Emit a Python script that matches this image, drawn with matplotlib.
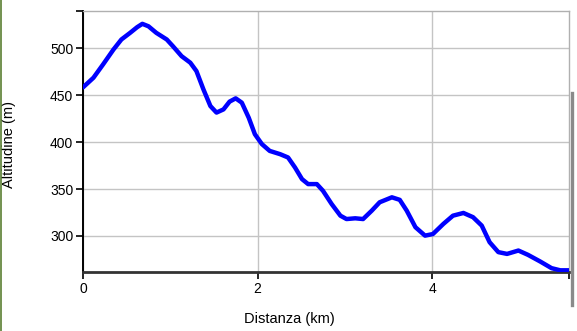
import matplotlib
matplotlib.use('Agg')
import matplotlib.pyplot as plt
from matplotlib.lines import Line2D

plt.rcParams['font.family'] = ['Liberation Sans', 'DejaVu Sans']

# elevation profile
distanceKm = [0.0, 0.12, 0.23, 0.35, 0.44, 0.54, 0.62, 0.68, 0.75, 0.84,
              0.96, 1.03, 1.13, 1.23, 1.30, 1.38, 1.46, 1.53, 1.61, 1.68,
              1.75, 1.82, 1.90, 1.97, 2.05, 2.14, 2.26, 2.35, 2.43, 2.51,
              2.58, 2.68, 2.75, 2.85, 2.95, 3.02, 3.12, 3.21, 3.31, 3.40,
              3.54, 3.63, 3.71, 3.81, 3.92, 4.01, 4.13, 4.24, 4.36, 4.47,
              4.57, 4.66, 4.76, 4.86, 4.99, 5.10, 5.24, 5.37, 5.47, 5.58]
altitudeM = [458.5, 468.8, 483, 499, 509.6, 516.7, 522.7, 526.3, 523.7, 516.7,
             509.6, 502.5, 491.8, 484.8, 475.9, 456.4, 438.6, 431.6, 435, 443.3,
             446.8, 442.2, 426, 408.5, 398, 390.7, 387.2, 383.7, 373, 360.6,
             355.3, 355.3, 348.2, 334, 321.6, 318, 318.8, 318, 327, 335.9,
             341.2, 338.5, 327, 309.3, 300.3, 302, 312.8, 321.6, 324.5, 320,
             311, 293.3, 282.7, 280.8, 284.4, 279.8, 272.7, 265.6, 263.3, 263.3]
yTicks = [300, 350, 400, 450, 500]
xTicks = [0, 2, 4]

fig = plt.figure(figsize=(5.77, 3.31), dpi=100)
ax = fig.add_axes([83/577, 1-272/331, 486/577, 261/331])

ax.plot(distanceKm, altitudeM, color='#0000ff', linewidth=3.2,
        solid_joinstyle='round', solid_capstyle='round', zorder=3)

ax.set_xlim(0, 5.57)
ax.set_ylim(261.5, 540)
ax.set_yticks(yTicks)
ax.set_xticks(xTicks)
ax.set_yticks([540], minor=True)
ax.set_xticks([5.57], minor=True)
ax.grid(True, color='#c4c4c4', linewidth=1.0)

for side in ['top', 'right']:
    ax.spines[side].set_color('#b0b0b0')
    ax.spines[side].set_linewidth(1.0)
ax.spines['left'].set_color('black')
ax.spines['left'].set_linewidth(1.4)
ax.spines['bottom'].set_color('#333333')
ax.spines['bottom'].set_linewidth(2.0)

ax.tick_params(which='both', direction='out', length=5, width=1.2,
               color='black', labelsize=10, pad=2)

ax.set_xlabel('Distanza (km)', fontsize=10.5)
ax.set_ylabel('Altitudine (m)', fontsize=10.5)
ax.xaxis.set_label_coords(0.424, -0.152)
ax.yaxis.set_label_coords(-0.137, 0.487)

# page borders visible in the screenshot
fig.add_artist(Line2D([0.5/577, 0.5/577], [0, 1], color='#5a7f32', linewidth=1.2))
fig.add_artist(Line2D([572/577, 572/577], [1-93/331, 1-305/331], color='#8a8a8a', linewidth=2.4))

fig.savefig('out.png', dpi=100)
